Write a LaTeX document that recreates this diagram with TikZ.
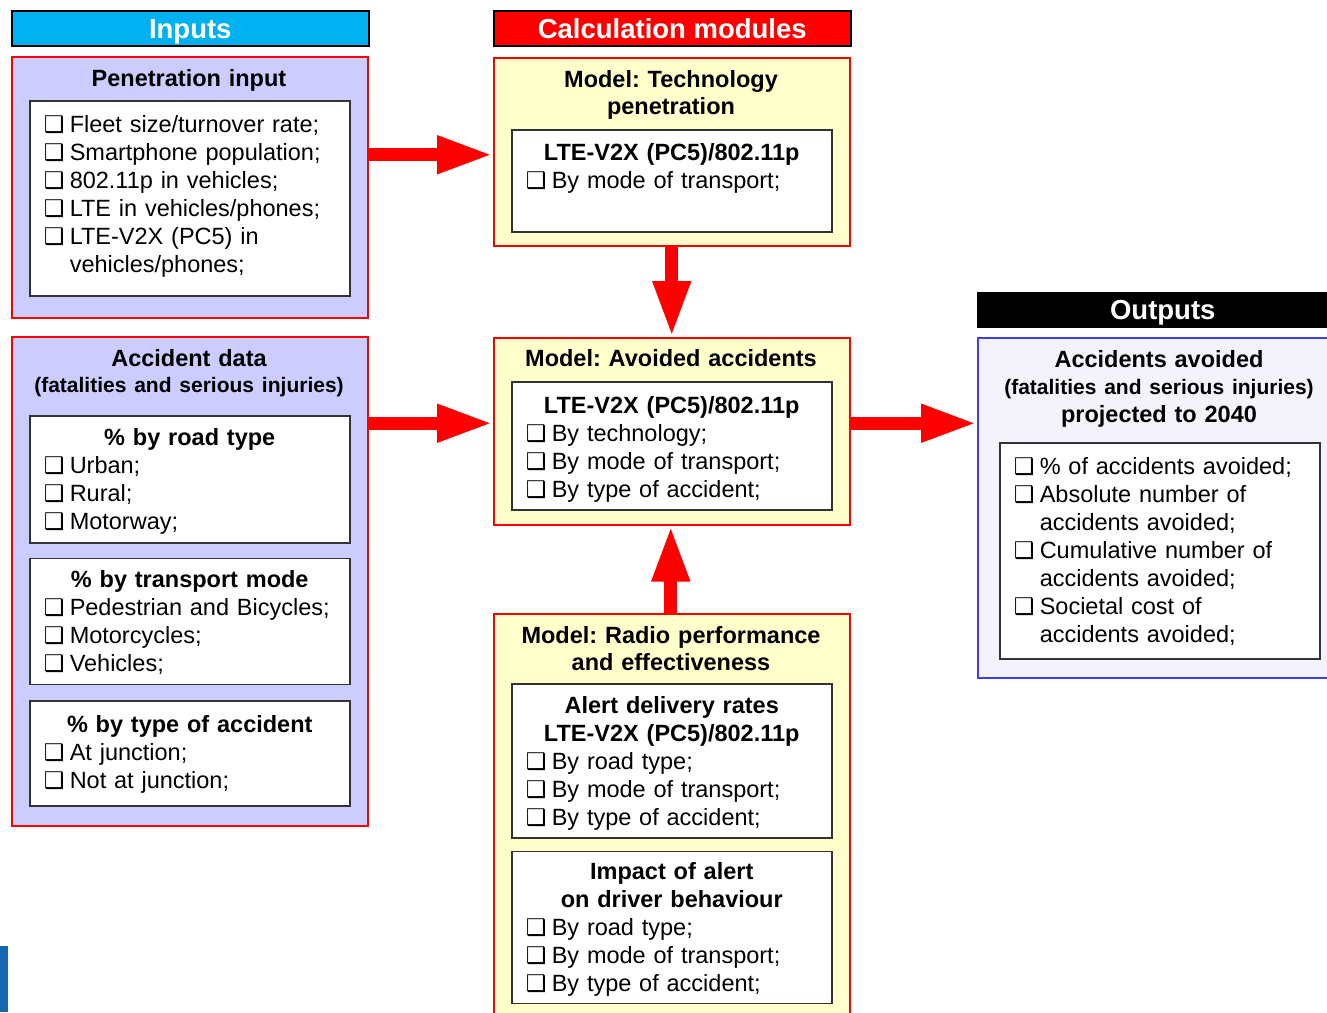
\documentclass[tikz,border=0pt]{standalone}
\usepackage{fontspec}
\setmainfont{Liberation Sans}
\newfontfamily\symfont{DejaVu Sans}
\usetikzlibrary{arrows.meta, positioning}

\definecolor{inblue}{HTML}{00B0F0}
\definecolor{lavender}{HTML}{CCCCFF}
\definecolor{paleyellow}{HTML}{FFFFCC}
\definecolor{outfill}{HTML}{F4F3FB}
\definecolor{outline}{HTML}{3C3CFF}
\definecolor{sliver}{HTML}{1565B0}

\frenchspacing
\hyphenpenalty=10000
\newcommand{\chk}{{\symfont\fontsize{23}{23}\selectfont ❑}}
\newcommand{\itm}[1]{\par\noindent\hangindent=26pt\hangafter=1\makebox[26pt][l]{\chk}\strut#1\par}
\newcommand{\ttl}[1]{\par{\centering\bfseries\fontsize{23.5}{28}\selectfont\strut#1\par}}
\newcommand{\subline}[2]{\par{\fontsize{21}{#1}\selectfont\strut#2\par}}
\newcommand{\lift}[1]{\par\vspace{#1}\hrule height 0pt}

\begin{document}
\begin{tikzpicture}[
    x=1pt, y=-1pt,
    header/.style={draw=black, line width=1.5pt, anchor=north west, inner sep=0pt,
        minimum width=357pt, minimum height=35pt, text=white,
        font=\bfseries\fontsize{27.5}{30}\selectfont, text height=19.7pt, text depth=0pt},
    outerbox/.style={draw=red, line width=1.5pt, anchor=north west, inner sep=0pt},
    title/.style={anchor=north, inner sep=0pt, text width=340pt, align=center,
        font=\bfseries\fontsize{23.5}{27.5}\selectfont},
    innerbox/.style={draw=black!80, line width=1.5pt, fill=white, anchor=north west,
        text width=292pt, inner xsep=14pt, inner ysep=0pt, align=left,
        font=\fontsize{23.5}{28}\selectfont},
    bigarrow/.style={draw=red, line width=13pt, -{Triangle[length=56pt, width=35pt]}}
]
    \useasboundingbox (0,0) rectangle (1327,1012);

    % Column headers
    \node[header, fill=inblue] (hin) at (11,10) {Inputs};
    \node[header, fill=red] (hcalc) at (493,10) {Calculation modules};
    \node[header, fill=black, minimum width=370pt, minimum height=34pt] (hout) at (977,292) {Outputs};

    % Outer boxes
    \node[outerbox, fill=lavender, minimum width=356pt, minimum height=261pt] (pen) at (11,56) {};
    \node[outerbox, fill=lavender, minimum width=356pt, minimum height=489pt] (acc) at (11,336) {};
    \node[outerbox, fill=paleyellow, minimum width=356pt, minimum height=188pt] (tech) at (493,57) {};
    \node[outerbox, fill=paleyellow, minimum width=356pt, minimum height=187pt] (avoid) at (493,337) {};
    \node[outerbox, fill=paleyellow, minimum width=356pt, minimum height=430pt] (radio) at (493,613) {};
    \node[outerbox, draw=outline, fill=outfill, minimum width=370pt, minimum height=340pt] (outbox) at (977,337) {};

    % Titles
    \node[title] (pentitle) at (189,66.75) {\strut Penetration input};
    \node[title] (acctitle) at (189,346.75) {\strut Accident data\subline{25}{(fatalities and serious injuries)}};
    \node[title] (techtitle) at (671,67.75) {\strut Model: Technology\par\strut penetration};
    \node[title] (avoidtitle) at (671,346.75) {\strut Model: Avoided accidents};
    \node[title] (radiotitle) at (671,623.75) {\strut Model: Radio performance\par\strut and effectiveness};
    \node[title] (outtitle) at (1159,347.75) {\strut Accidents avoided\subline{26}{(fatalities and serious injuries)}\strut projected to 2040};

    % Inputs
    \node[innerbox, minimum height=195pt] (peninner) at (29,100)
        {\itm{Fleet size/turnover rate;}\itm{Smartphone population;}\itm{802.11p in vehicles;}%
         \itm{LTE in vehicles/phones;}\itm{LTE-V2X (PC5) in\newline vehicles/phones;}\lift{14pt}};
    \node[innerbox, minimum height=127pt] (road) at (29,415)
        {\ttl{\% by road type}\itm{Urban;}\itm{Rural;}\itm{Motorway;}\lift{3pt}};
    \node[innerbox, minimum height=126pt, below right=14pt and 0pt of road.south west] (mode)
        {\ttl{\% by transport mode}\itm{Pedestrian and Bicycles;}\itm{Motorcycles;}\itm{Vehicles;}\lift{4pt}};
    \node[innerbox, minimum height=105pt, below right=15pt and 0pt of mode.south west] (acctype)
        {\ttl{\% by type of accident}\itm{At junction;}\itm{Not at junction;}\lift{6pt}};

    % Calculation modules
    \node[innerbox, minimum height=102pt] (techinner) at (511,129)
        {\ttl{LTE-V2X (PC5)/802.11p}\itm{By mode of transport;}\strut\lift{5pt}};
    \node[innerbox, minimum height=128pt] (avoidinner) at (511,381)
        {\ttl{LTE-V2X (PC5)/802.11p}\itm{By technology;}\itm{By mode of transport;}\itm{By type of accident;}};
    \node[innerbox, minimum height=154pt] (alert) at (511,683)
        {\ttl{Alert delivery rates}\ttl{LTE-V2X (PC5)/802.11p}%
         \itm{By road type;}\itm{By mode of transport;}\itm{By type of accident;}\lift{2pt}};
    \node[innerbox, minimum height=152pt, below right=12pt and 0pt of alert.south west] (impact)
        {\ttl{Impact of alert}\ttl{on driver behaviour}%
         \itm{By road type;}\itm{By mode of transport;}\itm{By type of accident;}\lift{4pt}};

    % Outputs
    \node[innerbox, minimum height=216pt] (outinner) at (999,442)
        {\itm{\% of accidents avoided;}\itm{Absolute number of\newline accidents avoided;}%
         \itm{Cumulative number of\newline accidents avoided;}\itm{Societal cost of\newline accidents avoided;}\lift{10pt}};

    % Flow arrows
    \draw[bigarrow] ([yshift=-3pt]pen.east |- tech.west) -- ([yshift=-3pt]tech.west);
    \draw[bigarrow] ([yshift=8pt]acc.east |- avoid.west) -- ([yshift=8pt]avoid.west);
    \draw[bigarrow] ([yshift=8pt]avoid.east) -- ([yshift=8pt]avoid.east -| outbox.west);
    \draw[bigarrow] (tech.south) -- (avoid.north);
    \draw[bigarrow] ([xshift=-1pt]radio.north) -- ([xshift=-1pt]avoid.south);

    \fill[sliver] (0,946) rectangle (8,1012);
\end{tikzpicture}
\end{document}
